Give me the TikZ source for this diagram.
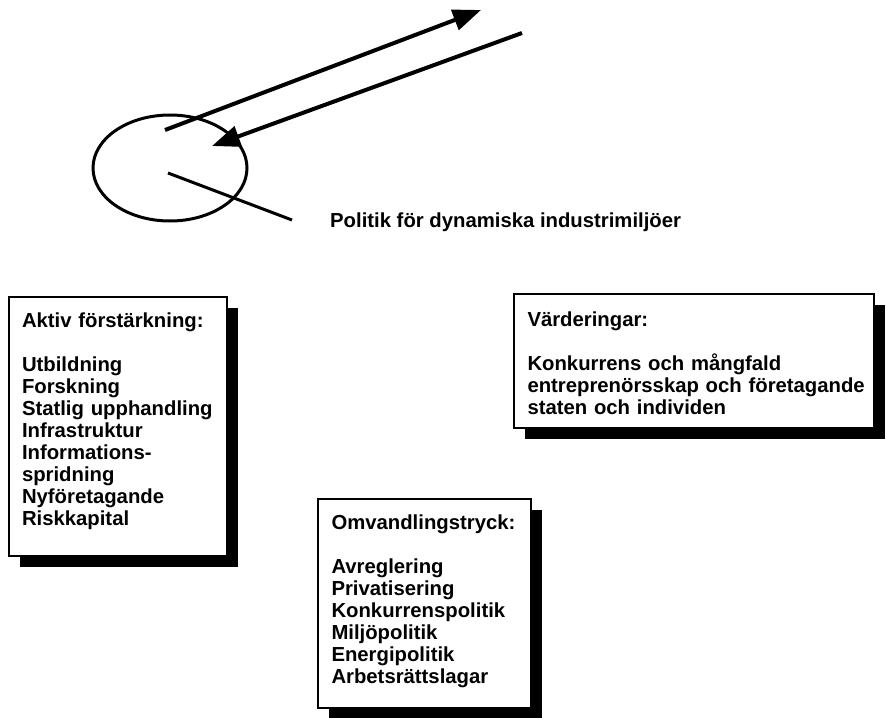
\documentclass[tikz,border=0pt]{standalone}
\usepackage{fontspec}
\setmainfont{Liberation Sans}
\usetikzlibrary{shapes.geometric,arrows.meta,shadows}
\hfuzz=20pt
\begin{document}
\begin{tikzpicture}[x=1pt,y=-1pt,
  txt/.style={font=\fontsize{20.3}{22}\selectfont\bfseries},
  panel/.style={txt, draw, line width=2pt, fill=white, align=left, anchor=north west,
    inner xsep=13.5pt, inner ysep=0pt,
    drop shadow={shadow xshift=11pt, shadow yshift=-11pt, opacity=1, fill=black}},
  arr/.style={line width=4pt, -{Triangle[length=28pt,width=21pt]}},
  thin line/.style={line width=3pt}]
\useasboundingbox (0,0) rectangle (887,718);
\fill[white] (0,0) rectangle (887,718);

% environment ellipse and its label
\node[ellipse, draw, line width=3pt, minimum width=154pt, minimum height=106pt, inner sep=0pt] (env) at (170,168) {};
\node[txt, anchor=base west, inner sep=0pt] (pol) at (330,227) {Politik för dynamiska industrimiljöer};

\coordinate (a1s) at (165,130);
\coordinate (a1e) at (481,10);
\coordinate (a2s) at (522,33);
\coordinate (a2e) at (212,146);
\coordinate (lc) at (168,173);
\coordinate (le) at (292,220);

\draw[arr] (a1s) -- (a1e);
\draw[arr] (a2s) -- (a2e);
\draw[thin line] (lc) -- (le);

% boxes
\node[panel, text width=192pt, inner xsep=13pt, text height=30pt, text depth=229pt] (aktiv) at (8,296)
 {Aktiv förstärkning:\\[22pt]
  Utbildning\\
  Forskning\\
  Statlig upphandling\\
  Infrastruktur\\
  Informations-\\
  spridning\\
  Nyföretagande\\
  Riskkapital};

\node[panel, text width=333pt, text height=32pt, text depth=102pt] (varde) at (513,293)
 {Värderingar:\\[22pt]
  Konkurrens och mångfald\\
  \mbox{entreprenörsskap och företagande}\\
  staten och individen};

\node[panel, text width=186pt, text height=30pt, text depth=179pt] (omv) at (317,498)
 {Omvandlingstryck:\\[22pt]
  Avreglering\\
  Privatisering\\
  Konkurrenspolitik\\
  Miljöpolitik\\
  Energipolitik\\
  Arbetsrättslagar};
\end{tikzpicture}
\end{document}
